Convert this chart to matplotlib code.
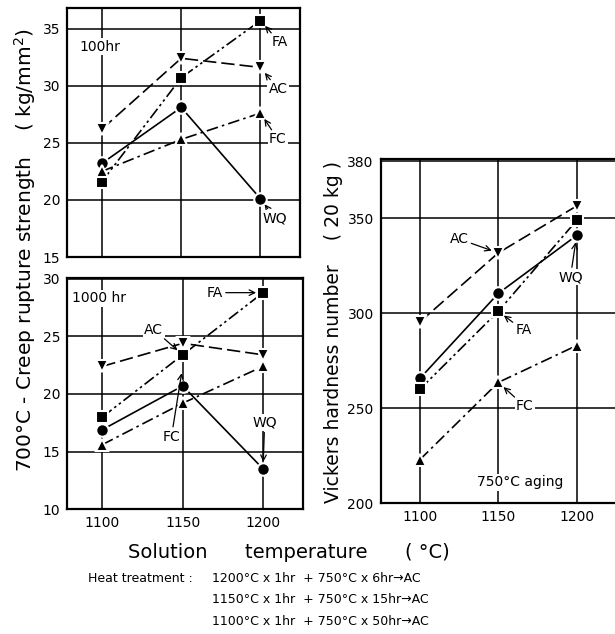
import matplotlib.pyplot as plt

temps = [1100, 1150, 1200]

# 100 hr creep rupture strength (kg/mm2)
wq_100 = [23.2, 28.1, 20.1]
ac_100 = [26.2, 32.4, 31.6]
fa_100 = [21.6, 30.7, 35.7]
fc_100 = [22.5, 25.3, 27.6]

# 1000 hr creep rupture strength (kg/mm2)
wq_1000 = [16.9, 20.7, 13.5]
ac_1000 = [22.4, 24.4, 23.4]
fa_1000 = [18.0, 23.4, 28.8]
fc_1000 = [15.6, 19.2, 22.4]

# Vickers hardness after 750C aging
wq_hv = [265.7, 310.4, 340.9]
ac_hv = [295.4, 331.7, 356.4]
fa_hv = [260.0, 301.0, 348.8]
fc_hv = [223.0, 263.6, 283.0]

styles = {
    'WQ': dict(marker='o', linestyle='-'),
    'AC': dict(marker='v', linestyle=(0, (8, 3))),
    'FA': dict(marker='s', linestyle=(0, (7, 2, 1.5, 2, 1.5, 2))),
    'FC': dict(marker='^', linestyle=(0, (7, 2.5, 1.5, 2.5))),
}

plt.rcParams['font.family'] = ['DejaVu Sans']
fig = plt.figure(figsize=(6.15, 6.34), dpi=100)

ax1 = fig.add_axes([0.109, 0.5946, 0.379, 0.3927])
ax2 = fig.add_axes([0.109, 0.197, 0.384, 0.365])
ax3 = fig.add_axes([0.619, 0.206, 0.385, 0.543])

def setup(ax, ylim, yticks):
    ax.set_xlim(1078, 1225)
    ax.set_ylim(*ylim)
    ax.set_xticks(temps)
    ax.set_yticks(yticks)
    ax.grid(True, color='black', linewidth=1.1)
    ax.set_axisbelow(True)
    ax.tick_params(length=0, labelsize=10, pad=5)
    for s in ax.spines.values():
        s.set_linewidth(1.6)

def draw(ax, data):
    for name, vals in data:
        ax.plot(temps, vals, color='black', linewidth=1.2, markersize=9,
                markeredgecolor='white', markeredgewidth=1.5, zorder=3,
                **styles[name])

arrow = dict(arrowstyle='->', color='black', linewidth=0.9, shrinkA=1, shrinkB=5)
box = dict(facecolor='white', edgecolor='none', pad=1)

def label(ax, txt, xy, xytext):
    ax.annotate(txt, xy=xy, xytext=xytext, fontsize=10, ha='center', va='center',
                arrowprops=arrow, bbox=box, zorder=4)

# top left: 100 hr
setup(ax1, (15, 36.8), [15, 20, 25, 30, 35])
ax1.set_xticklabels([])
draw(ax1, [('WQ', wq_100), ('AC', ac_100), ('FA', fa_100), ('FC', fc_100)])
ax1.text(1099, 33.4, '100hr', fontsize=10, ha='center', va='center', bbox=box, zorder=4)
label(ax1, 'FA', (1200, fa_100[2]), (1212, 33.8))
label(ax1, 'AC', (1200, ac_100[2]), (1211, 29.7))
label(ax1, 'FC', (1200, fc_100[2]), (1211, 25.3))
label(ax1, 'WQ', (1200, wq_100[2]), (1209, 18.4))

# bottom left: 1000 hr
setup(ax2, (10, 30.1), [10, 15, 20, 25, 30])
draw(ax2, [('WQ', wq_1000), ('AC', ac_1000), ('FA', fa_1000), ('FC', fc_1000)])
ax2.text(1098, 28.3, '1000 hr', fontsize=10, ha='center', va='center', bbox=box, zorder=4)
label(ax2, 'FA', (1200, fa_1000[2]), (1170, 28.8))
label(ax2, 'AC', (1150, ac_1000[2]), (1132, 25.6))
label(ax2, 'FC', (1150, fc_1000[2]), (1143, 16.3))
label(ax2, 'WQ', (1200, wq_1000[2]), (1201, 17.5))

# right: hardness
setup(ax3, (200, 381), [200, 250, 300, 350, 380])
ax3.set_xlim(1075, 1226)
draw(ax3, [('WQ', wq_hv), ('AC', ac_hv), ('FA', fa_hv), ('FC', fc_hv)])
ax3.text(1164, 211, '750°C aging', fontsize=10, ha='center', va='center', bbox=box, zorder=4)
label(ax3, 'AC', (1150, ac_hv[1]), (1125, 339))
label(ax3, 'WQ', (1200, wq_hv[2]), (1196, 319))
label(ax3, 'FA', (1150, fa_hv[1]), (1166, 291))
label(ax3, 'FC', (1150, fc_hv[1]), (1167, 251))

fig.text(0.040, 0.606, '700°C - Creep rupture strength    ( kg/mm$^2$)',
         rotation=90, ha='center', va='center', fontsize=14.5)
fig.text(0.543, 0.476, 'Vickers hardness number    ( 20 kg )',
         rotation=90, ha='center', va='center', fontsize=13.5)
fig.text(0.47, 0.128, 'Solution      temperature      ( °C)', ha='center',
         va='center', fontsize=14)
fig.text(0.143, 0.088, 'Heat treatment :', ha='left', va='center', fontsize=9)
fig.text(0.345, 0.088, '1200°C x 1hr  + 750°C x 6hr→AC', ha='left', va='center', fontsize=9)
fig.text(0.345, 0.054, '1150°C x 1hr  + 750°C x 15hr→AC', ha='left', va='center', fontsize=9)
fig.text(0.345, 0.020, '1100°C x 1hr  + 750°C x 50hr→AC', ha='left', va='center', fontsize=9)

fig.savefig('out.png', dpi=100)
